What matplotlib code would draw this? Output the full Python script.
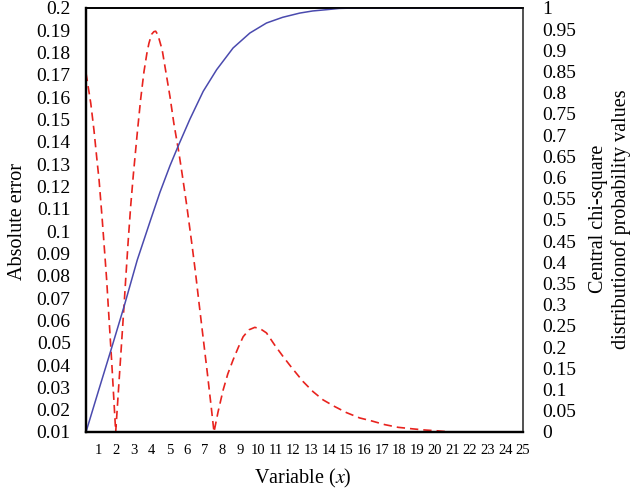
import numpy as np
import matplotlib.pyplot as plt
from matplotlib.ticker import FuncFormatter

plt.rcParams['font.family'] = ['Liberation Serif', 'DejaVu Serif']
plt.rcParams['mathtext.fontset'] = 'stix'

# absolute error (red dashed, left axis)
err_x = [0.28, 0.55, 0.73, 0.92, 1.02, 1.20, 1.34, 1.45, 1.54, 1.73, 1.96,
         2.11, 2.43, 2.52, 2.67, 2.81, 2.96, 3.18, 3.37, 3.56, 3.72, 3.84, 3.99, 4.12, 4.22,
         4.35, 4.59, 4.78, 5.03, 5.25, 5.54, 5.72, 5.97, 6.29, 6.48, 6.67, 6.91, 7.15,
         7.38, 7.52, 7.75, 8.04, 8.30, 8.60, 8.90, 9.17, 9.50, 9.83, 10.15, 10.49, 10.95,
         11.43, 11.90, 12.56, 13.12, 13.69, 14.35, 15.01, 15.76, 16.42, 17.18, 17.93, 18.77,
         19.44, 20.20, 20.90, 22.0, 23.0, 24.0, 25.0]
err_y = [0.1709, 0.1573, 0.1453, 0.1304, 0.1229, 0.1050, 0.0900, 0.0781, 0.0662, 0.0420, 0.0100,
         0.0280, 0.0664, 0.0778, 0.0960, 0.1115, 0.1255, 0.1440, 0.1590, 0.1715, 0.1795, 0.1842,
         0.1882, 0.1894, 0.1896, 0.1879, 0.1812, 0.1722, 0.1603, 0.1483, 0.1349, 0.1255, 0.1120,
         0.0930, 0.0810, 0.0680, 0.0520, 0.0360, 0.0200, 0.0100, 0.0190, 0.0289, 0.0360,
         0.0423, 0.0480, 0.0527, 0.0558, 0.0569, 0.0562, 0.0544, 0.0490, 0.0438, 0.0390, 0.0326,
         0.0281, 0.0244, 0.0214, 0.0187, 0.0163, 0.0150, 0.0133, 0.0121, 0.0114, 0.0109, 0.0105,
         0.0100, 0.0100, 0.0100, 0.0100, 0.0100]

# central chi-square probability values (blue, right axis)
prob_x = [0.28, 1.00, 1.69, 2.43, 3.18, 3.94, 4.46, 5.03, 5.50, 6.16, 6.91, 7.67, 8.60,
          9.55, 10.49, 11.40, 12.37, 13.10, 13.88, 14.60, 15.50, 25.0]
prob_y = [0.0, 0.099, 0.193, 0.2955, 0.4057, 0.501, 0.565, 0.628, 0.675, 0.738, 0.8035,
          0.8545, 0.9057, 0.941, 0.9646, 0.978, 0.988, 0.993, 0.996, 0.999, 1.0, 1.0]

x_ticks = list(range(1, 26))
left_ticks = np.round(np.arange(0.01, 0.2001, 0.01), 2)
right_ticks = np.round(np.arange(0, 1.0001, 0.05), 2)

fig = plt.figure(figsize=(6.34, 4.93), dpi=100)
ax = fig.add_axes([86 / 634, 61 / 493, 437 / 634, 424 / 493])
ax2 = ax.twinx()

ax.plot(err_x, err_y, color='#e8231e', linestyle=(0, (5, 3)), linewidth=1.2)
ax2.plot(prob_x, prob_y, color='#4a4aae', linewidth=1.1)

ax.set_xlim(0.28, 25)
ax.set_ylim(0.01, 0.2)
ax2.set_ylim(0, 1)

ax.set_xticks(x_ticks)
ax.set_yticks(left_ticks)
ax2.set_yticks(right_ticks)
fmt = FuncFormatter(lambda v, p: '%g' % v)
ax.yaxis.set_major_formatter(fmt)
ax2.yaxis.set_major_formatter(fmt)

ax.tick_params(axis='x', length=0, pad=9, labelsize=10.5)
ax.tick_params(axis='y', length=0, pad=11, labelsize=14)
ax2.tick_params(axis='y', length=0, pad=14, labelsize=14)

for a in (ax, ax2):
    a.spines['left'].set_linewidth(1.6)
    a.spines['bottom'].set_linewidth(1.6)
    a.spines['top'].set_linewidth(1.2)
    a.spines['right'].set_linewidth(1.4)
    a.spines['right'].set_color('#555555')

ax.set_xlabel('Variable ($x$)', fontsize=14.5)
ax.xaxis.set_label_coords(0.497, -0.082)

fig.text(18 / 634, 1 - 221 / 493, 'Absolute error', rotation=90,
         ha='center', va='center', fontsize=14.5)
fig.text(610 / 634, 1 - 219 / 493, 'Central chi-square\ndistributionof probability values',
         rotation=90, ha='center', va='center', multialignment='center',
         fontsize=14.5, linespacing=1.25)

plt.savefig('out.png', dpi=100)
